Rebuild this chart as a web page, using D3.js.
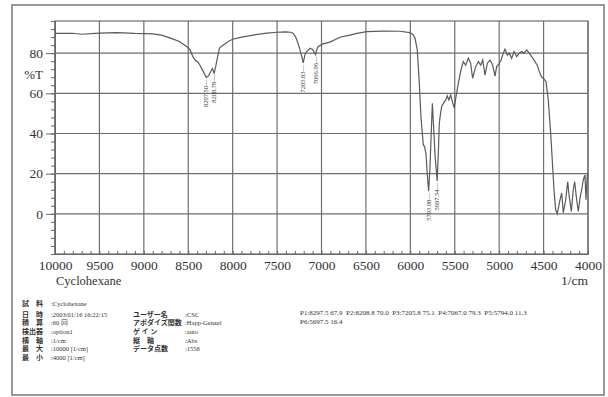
<!DOCTYPE html>
<html>
<head>
<meta charset="utf-8">
<script src="https://cdn.jsdelivr.net/npm/d3@7"></script>
<style>
  body { margin: 0; background: #fff; }
  text { font-family: "Liberation Serif", "DejaVu Serif", serif; fill: #333; }
  .jp { font-family: "Noto Sans CJK JP", sans-serif; font-weight: bold; }
</style>
</head>
<body>
<div id="container"></div>
<script>
// spectrum: wavenumber (1/cm) and %T
const wavenumbers = [
  10000, 9800, 9700, 9500, 9300, 9100, 8900, 8800, 8700, 8600, 8515, 8480, 8450, 8424, 8390, 8368, 8330,
  8297.5, 8270, 8240, 8228, 8208.8, 8190, 8175, 8150, 8120, 8050, 8000, 7900, 7770, 7615, 7500, 7400,
  7350, 7320, 7290, 7265, 7242, 7220, 7205.8, 7185, 7167, 7130, 7100, 7085, 7067, 7055, 7040, 6983,
  6905, 6792, 6680, 6600, 6491, 6308, 6116, 6004, 5970, 5947, 5922, 5899, 5880, 5854, 5840, 5824,
  5810, 5794, 5780, 5765, 5752, 5740, 5720, 5697.5, 5685, 5674, 5660, 5647, 5628, 5602, 5584, 5565,
  5546, 5523, 5505, 5486, 5460, 5430, 5404, 5377, 5347, 5321, 5299, 5264, 5234, 5207, 5185, 5159,
  5133, 5103, 5073, 5047, 5028, 5002, 4979, 4953, 4934, 4908, 4886, 4859, 4833, 4803, 4773, 4747,
  4721, 4690, 4661, 4634, 4597, 4571, 4548, 4522, 4502, 4473, 4447, 4420, 4398, 4383, 4364, 4346,
  4315, 4296, 4278, 4251, 4229, 4211, 4188, 4166, 4150, 4128, 4109, 4090, 4071, 4053, 4034, 4023,
  4008, 4000
];
const transmittance = [
  89.8, 89.9, 89.4, 90.0, 90.2, 89.8, 89.6, 89.0, 87.5, 85.8, 83.2, 81.6, 78.5, 76.6, 75.5, 74.0, 70.8,
  67.9, 68.8, 71.5, 72.3, 70.0, 73.5, 77.0, 82.4, 83.6, 85.8, 86.9, 88.0, 89.0, 90.0, 90.4, 90.6,
  90.4, 89.9, 88.0, 85.0, 81.6, 78.0, 75.1, 79.5, 80.8, 82.4, 81.8, 80.6, 79.3, 81.5, 83.2, 84.6,
  85.5, 87.9, 89.0, 89.8, 90.7, 91.0, 90.9, 90.2, 89.3, 87.4, 81.6, 65.0, 48.0, 34.3, 33.5, 30.0,
  20.0, 11.3, 22.0, 40.0, 55.0, 45.0, 28.0, 16.4, 30.0, 45.0, 50.0, 53.4, 55.0, 56.7, 58.7, 56.7,
  59.2, 55.2, 52.7, 58.4, 65.0, 71.6, 75.8, 74.0, 77.4, 75.0, 67.5, 73.3, 75.8, 74.0, 76.6, 69.0,
  75.0, 76.6, 74.0, 68.6, 73.3, 74.6, 76.6, 80.0, 82.0, 79.0, 80.0, 77.4, 80.8, 78.3, 80.0, 80.8,
  80.0, 81.6, 80.0, 78.3, 75.8, 74.0, 70.8, 68.0, 67.5, 65.8, 56.7, 40.0, 23.5, 12.0, 2.0, 0.0,
  7.0, 10.4, 0.5, 7.0, 16.0, 8.6, 1.2, 12.0, 16.0, 7.0, 1.2, 8.0, 12.0, 17.0, 19.4, 7.0,
  19.4, 20.0
];

// picked peaks
const peakWn = [8297.50, 8208.78, 7205.83, 7066.96, 5793.98, 5697.54];
const peakT = [67.9, 70.0, 75.1, 79.3, 11.3, 16.4];

const xTicks = d3.range(10000, 3999, -500);
const yTicks = [0, 20, 40, 60, 80];

// measurement info
const infoLabels = ['試　料', '日　時', '積　算', '検出器', '横　軸', '最　大', '最　小'];
const infoValues = [':Cyclohexane', ':2003/01/16 16:22:15', ':60 回', ':option1', ':1/cm', ':10000 [1/cm]', ':4000 [1/cm]'];
const infoLabels2 = ['', 'ユーザー名', 'アポダイズ関数', 'ゲ イ ン', '縦　軸', 'データ点数', ''];
const infoValues2 = ['', ':CSC', ':Happ-Genzel', ':auto', ':Abs', ':1558', ''];

const width = 608, height = 397;
const plot = { left: 55, right: 588, top: 21, bottom: 254 };

const svg = d3.select('#container').append('svg')
  .attr('width', width)
  .attr('height', height);

svg.append('rect')
  .attr('x', 12).attr('y', 5)
  .attr('width', 592).attr('height', 390)
  .attr('fill', '#fff')
  .attr('stroke', '#999')
  .attr('stroke-width', 2);

const xScale = d3.scaleLinear().domain([10000, 4000]).range([plot.left, plot.right]);
const yScale = d3.scaleLinear().domain([-20, 96]).range([plot.bottom, plot.top]);

// grid
const grid = svg.append('g').attr('stroke', '#6e6e6e').attr('stroke-width', 1.2);
grid.selectAll('line.v').data(xTicks).enter().append('line')
  .attr('x1', d => xScale(d)).attr('x2', d => xScale(d))
  .attr('y1', plot.top).attr('y2', plot.bottom);
grid.selectAll('line.h').data(yTicks).enter().append('line')
  .attr('x1', plot.left).attr('x2', plot.right)
  .attr('y1', d => yScale(d)).attr('y2', d => yScale(d));
svg.append('rect')
  .attr('x', plot.left).attr('y', plot.top)
  .attr('width', plot.right - plot.left).attr('height', plot.bottom - plot.top)
  .attr('fill', 'none').attr('stroke', '#6e6e6e').attr('stroke-width', 1.2);

// y axis: minor ticks every 4, major ticks with labels
svg.append('g')
  .attr('transform', `translate(${plot.left},0)`)
  .call(d3.axisLeft(yScale).tickValues(d3.range(-20, 97, 4)).tickSize(4).tickFormat(''))
  .call(g => g.select('.domain').attr('stroke', '#666'))
  .call(g => g.selectAll('.tick line').attr('stroke', '#666'));
svg.append('g')
  .attr('transform', `translate(${plot.left},0)`)
  .call(d3.axisLeft(yScale).tickValues(yTicks).tickSize(9).tickPadding(3))
  .call(g => g.select('.domain').remove())
  .call(g => g.selectAll('.tick line').attr('stroke', '#666'))
  .call(g => g.selectAll('.tick text')
    .attr('font-family', '"Liberation Serif", serif')
    .attr('font-size', 13.5).attr('fill', '#3a3a3a'));

svg.append('text')
  .attr('x', 43).attr('y', 79)
  .attr('text-anchor', 'end')
  .attr('font-size', 13).attr('fill', '#3a3a3a')
  .text('%T');

// x axis: minor ticks inward every 100
svg.append('g')
  .attr('transform', `translate(0,${plot.bottom})`)
  .call(d3.axisBottom(xScale).tickValues(d3.range(10000, 3999, -100)).tickSize(-3).tickFormat(''))
  .call(g => g.select('.domain').attr('stroke', '#666'))
  .call(g => g.selectAll('.tick line').attr('stroke', '#666'));
svg.append('g')
  .attr('transform', `translate(0,${plot.bottom})`)
  .call(d3.axisBottom(xScale).tickValues(xTicks).tickSize(0).tickPadding(6).tickFormat(d3.format('d')))
  .call(g => g.select('.domain').remove())
  .call(g => g.selectAll('.tick text')
    .attr('font-family', '"Liberation Serif", serif')
    .attr('font-size', 13.5).attr('fill', '#3a3a3a'));

svg.append('text')
  .attr('x', plot.left + 1).attr('y', 285)
  .attr('font-size', 12.5).attr('fill', '#444')
  .text('Cyclohexane');
svg.append('text')
  .attr('x', plot.right).attr('y', 285)
  .attr('text-anchor', 'end')
  .attr('font-size', 13.5).attr('fill', '#3a3a3a')
  .text('1/cm');

// spectrum line
const points = wavenumbers.map((w, i) => [w, transmittance[i]]);
const line = d3.line().x(d => xScale(d[0])).y(d => yScale(d[1]));
svg.append('path')
  .datum(points)
  .attr('d', line)
  .attr('fill', 'none')
  .attr('stroke', '#5a5a5a')
  .attr('stroke-width', 1.2);

// peak labels
svg.append('g').selectAll('text')
  .data(peakWn).enter().append('text')
  .attr('transform', (d, i) => `translate(${xScale(d) + 2},${yScale(peakT[i]) + 2}) rotate(-90)`)
  .attr('text-anchor', 'end')
  .attr('font-size', 6.5)
  .attr('fill', '#444')
  .text(d => d3.format('.2f')(d) + '—');

// info block
const rowY = [306, 316.5, 325, 334, 342.5, 351, 359.5];
const info = svg.append('g');
info.selectAll('text.l1').data(infoLabels).enter().append('text')
  .attr('class', 'jp').attr('x', 22).attr('y', (d, i) => rowY[i])
  .attr('font-size', 7).attr('fill', '#444').text(d => d);
info.selectAll('text.v1').data(infoValues).enter().append('text')
  .attr('x', 51).attr('y', (d, i) => rowY[i])
  .attr('font-size', 6.5).attr('fill', '#555').text(d => d);
info.selectAll('text.l2').data(infoLabels2).enter().append('text')
  .attr('class', 'jp').attr('x', 133).attr('y', (d, i) => rowY[i])
  .attr('font-size', 7).attr('fill', '#444').text(d => d);
info.selectAll('text.v2').data(infoValues2).enter().append('text')
  .attr('x', 185).attr('y', (d, i) => rowY[i])
  .attr('font-size', 6.5).attr('fill', '#555').text(d => d);

// peak list
const peakText = peakWn.map((w, i) => `P${i + 1}:${w.toFixed(1)} ${peakT[i].toFixed(1)}`);
svg.append('text')
  .attr('x', 300).attr('y', 315)
  .attr('font-size', 7).attr('fill', '#444')
  .attr('xml:space', 'preserve')
  .text(peakText.slice(0, 5).join('  '));
svg.append('text')
  .attr('x', 300).attr('y', 324)
  .attr('font-size', 7).attr('fill', '#444')
  .text(peakText[5]);
</script>
</body>
</html>
